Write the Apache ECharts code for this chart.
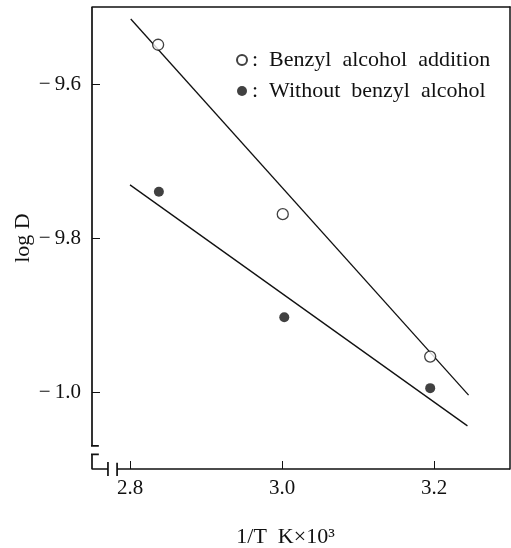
<!DOCTYPE html>
<html>
<head>
<meta charset="utf-8">
<script src="https://cdn.jsdelivr.net/npm/echarts@6/dist/echarts.min.js"></script>
<style>
  html, body { margin: 0; padding: 0; background: #fff; }
  #chart { width: 511px; height: 548px; }
</style>
</head>
<body>
<div id="chart"></div>
<script>
// measured points (1/T x10^3, log D)
var benzylX = [2.837, 3.001, 3.195];
var benzylY = [-9.549, -9.769, -9.954];
var withoutX = [2.838, 3.003, 3.195];
var withoutY = [-9.740, -9.903, -9.995];
// fitted lines, end points
var benzylFitX = [2.801, 3.2455];
var benzylFitY = [-9.5156, -10.004];
var withoutFitX = [2.800, 3.244];
var withoutFitY = [-9.731, -10.044];
// tick labels
var xTicks = [2.8, 3.0, 3.2];
var yTicks = [-9.6, -9.8, -10.0];
var yTickLabels = ['\u2212\u20099.6', '\u2212\u20099.8', '\u2212\u20091.0'];

function pairs(xs, ys) {
    return xs.map(function (x, i) { return [x, ys[i]]; });
}

var font = 'Liberation Serif';
var black = '#111';

// left and bottom axis lines with the break marks (data units, '-' splits pieces)
var axisPath = [
    [2.75, -9.5], [2.75, -10.070], '-',
    [2.741, -10.070], [2.759, -10.070], '-',
    [2.741, -10.081], [2.759, -10.081], '-',
    [2.75, -10.081], [2.75, -10.1], [2.771, -10.1], '-',
    [2.771, -10.091], [2.771, -10.109], '-',
    [2.783, -10.092], [2.783, -10.109], '-',
    [2.783, -10.1], [3.3, -10.1]
];

var chart = echarts.init(document.getElementById('chart'));
var option = {
    animation: false,
    backgroundColor: '#fff',
    grid: { left: 92, right: 1, top: 7, bottom: 79, containLabel: false, outerBoundsMode: 'none' },
    legend: {
        orient: 'vertical',
        left: 231,
        top: 44,
        itemGap: 9,
        itemWidth: 10,
        itemHeight: 10,
        data: ['Benzyl alcohol addition', 'Without benzyl alcohol'],
        formatter: function (n) { return ':  ' + n.replace(/ /g, '  '); },
        textStyle: { fontFamily: font, fontSize: 22, color: black }
    },
    xAxis: [{
        type: 'value',
        min: 2.75,
        max: 3.30,
        name: '1/T  K\u00d710\u00b3',
        nameLocation: 'middle',
        nameGap: 57,
        nameMoveOverlap: false,
        nameTextStyle: { fontFamily: font, fontSize: 22, color: black, padding: [0, 31, 0, 0] },
        axisLine: { show: false },
        axisTick: { show: true, inside: true, length: 8, customValues: xTicks, lineStyle: { color: black } },
        axisLabel: {
            customValues: xTicks, margin: 9,
            fontFamily: font, fontSize: 21, color: black,
            formatter: function (v) { return v.toFixed(1); }
        },
        splitLine: { show: false }
    }, {
        type: 'value', position: 'top', min: 2.75, max: 3.30,
        axisLine: { show: true, lineStyle: { color: black, width: 1.5 } },
        axisTick: { show: false }, axisLabel: { show: false }, splitLine: { show: false }
    }],
    yAxis: [{
        type: 'value',
        min: -10.1,
        max: -9.5,
        name: 'log D',
        nameLocation: 'middle',
        nameGap: 58,
        nameMoveOverlap: false,
        nameTextStyle: { fontFamily: font, fontSize: 22, color: black },
        axisLine: { show: false },
        axisTick: { show: true, inside: true, length: 8, customValues: yTicks, lineStyle: { color: black } },
        axisLabel: {
            customValues: yTicks, margin: 11,
            fontFamily: font, fontSize: 21, color: black,
            formatter: function (v) {
                var i = yTicks.findIndex(function (t) { return Math.abs(t - v) < 1e-6; });
                return i >= 0 ? yTickLabels[i] : '';
            }
        },
        splitLine: { show: false }
    }, {
        type: 'value', position: 'right', min: -10.1, max: -9.5,
        axisLine: { show: true, lineStyle: { color: black, width: 1.5 } },
        axisTick: { show: false }, axisLabel: { show: false }, splitLine: { show: false }
    }],
    series: [
        {
            name: 'axes',
            type: 'line',
            data: axisPath,
            symbol: 'none',
            clip: false,
            connectNulls: false,
            lineStyle: { color: black, width: 1.7 },
            silent: true,
            z: 1
        },
        {
            name: 'benzyl fit',
            type: 'line',
            data: pairs(benzylFitX, benzylFitY),
            symbol: 'none',
            lineStyle: { color: black, width: 1.3 },
            silent: true
        },
        {
            name: 'without fit',
            type: 'line',
            data: pairs(withoutFitX, withoutFitY),
            symbol: 'none',
            lineStyle: { color: black, width: 1.3 },
            silent: true
        },
        {
            name: 'Benzyl alcohol addition',
            type: 'scatter',
            data: pairs(benzylX, benzylY),
            symbol: 'circle',
            symbolSize: 11,
            itemStyle: { color: '#fff', borderColor: black, borderWidth: 1.3 },
            z: 5
        },
        {
            name: 'Without benzyl alcohol',
            type: 'scatter',
            data: pairs(withoutX, withoutY),
            symbol: 'circle',
            symbolSize: 10,
            itemStyle: { color: black },
            z: 5
        }
    ]
};
chart.setOption(option);
</script>
</body>
</html>
